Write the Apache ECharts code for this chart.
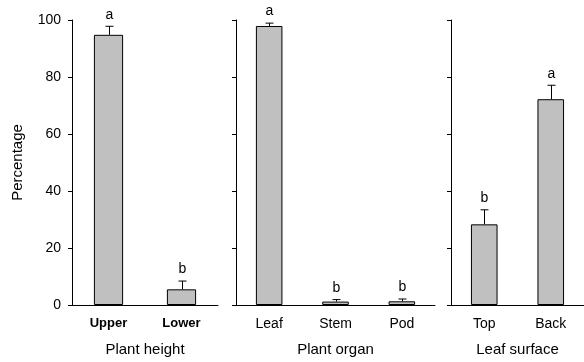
<!DOCTYPE html>
<html><head><meta charset="utf-8">
<script src="https://cdn.jsdelivr.net/npm/echarts@6/dist/echarts.min.js"></script>
<style>html,body{margin:0;padding:0;background:#fff}#c{width:584px;height:362px}</style>
</head><body><div id="c"></div>
<script>
const heightCats = ['Upper', 'Lower'];
const heightVals = [94.8, 5.5];
const heightErr = [97.8, 8.4];
const heightSig = ['a', 'b'];

const organCats = ['Leaf', 'Stem', 'Pod'];
const organVals = [97.9, 1.2, 1.3];
const organErr = [98.9, 1.9, 2.1];
const organSig = ['a', 'b', 'b'];

const surfaceCats = ['Top', 'Back'];
const surfaceVals = [28.3, 72.2];
const surfaceErr = [33.4, 77.1];
const surfaceSig = ['b', 'a'];

const axisNames = ['Plant height', 'Plant organ', 'Leaf surface'];
const yTicks = [0, 20, 40, 60, 80, 100];

const FONT = 'Liberation Sans, Arial, sans-serif';
const chart = echarts.init(document.getElementById('c'));

const panels = [
  {cats: heightCats, vals: heightVals, err: heightErr, sig: heightSig, bold: true},
  {cats: organCats, vals: organVals, err: organErr, sig: organSig, bold: false},
  {cats: surfaceCats, vals: surfaceVals, err: surfaceErr, sig: surfaceSig, bold: false}
];
const grids = [
  {left: 72, width: 146, top: 20, bottom: 57},
  {left: 236, width: 199, top: 20, bottom: 57},
  {left: 451, width: 136, top: 20, bottom: 57}
];

const xAxis = [], yAxis = [], series = [];
panels.forEach((p, i) => {
  xAxis.push({
    type: 'category', gridIndex: i, data: p.cats,
    name: axisNames[i], nameLocation: 'middle', nameGap: 37,
    nameTextStyle: {fontFamily: FONT, fontSize: 15, color: '#000'},
    axisLine: {lineStyle: {color: '#000', width: 1}},
    axisTick: {alignWithLabel: true, length: 4, lineStyle: {color: '#000'}},
    axisLabel: {fontFamily: FONT, fontSize: p.bold ? 13 : 14, fontWeight: p.bold ? 'bold' : 'normal', color: '#000', margin: 12}
  });
  yAxis.push({
    type: 'value', gridIndex: i, min: 0, max: 100, interval: 20,
    name: i === 0 ? 'Percentage' : '', nameLocation: 'middle', nameGap: 47,
    nameTextStyle: {fontFamily: FONT, fontSize: 15, color: '#000'},
    axisLine: {show: true, lineStyle: {color: '#000', width: 1}},
    axisTick: {show: true, length: 4, lineStyle: {color: '#000'}},
    axisLabel: {show: i === 0, fontFamily: FONT, fontSize: 14, color: '#000', margin: 11,
      formatter: v => yTicks.includes(v) ? String(v) : ''},
    splitLine: {show: false}
  });
  series.push({
    type: 'bar', xAxisIndex: i, yAxisIndex: i, data: p.vals, barWidth: '40%',
    itemStyle: {color: '#c0c0c0', borderColor: '#000', borderWidth: 1},
    silent: true, animation: false
  });
  series.push({
    type: 'custom', xAxisIndex: i, yAxisIndex: i, silent: true, animation: false,
    data: p.vals.map((v, k) => [k, v, p.err[k], p.sig[k]]),
    renderItem: (params, api) => {
      const k = api.value(0);
      const base = api.coord([k, api.value(1)]);
      const top = api.coord([k, api.value(2)]);
      const x = Math.round(base[0]) + 0.5;
      const letter = p.sig[params.dataIndex];
      return {type: 'group', children: [
        {type: 'line', shape: {x1: x, y1: base[1], x2: x, y2: top[1]}, style: {stroke: '#000', lineWidth: 1}},
        {type: 'line', shape: {x1: x - 4, y1: top[1], x2: x + 4, y2: top[1]}, style: {stroke: '#000', lineWidth: 1}},
        {type: 'text', style: {text: letter, x: x, y: top[1] - 4.5, align: 'center', verticalAlign: 'bottom',
          fontFamily: FONT, fontSize: 14, fill: '#000'}}
      ]};
    }
  });
});

chart.setOption({animation: false, grid: grids, xAxis, yAxis, series});
</script></body></html>
